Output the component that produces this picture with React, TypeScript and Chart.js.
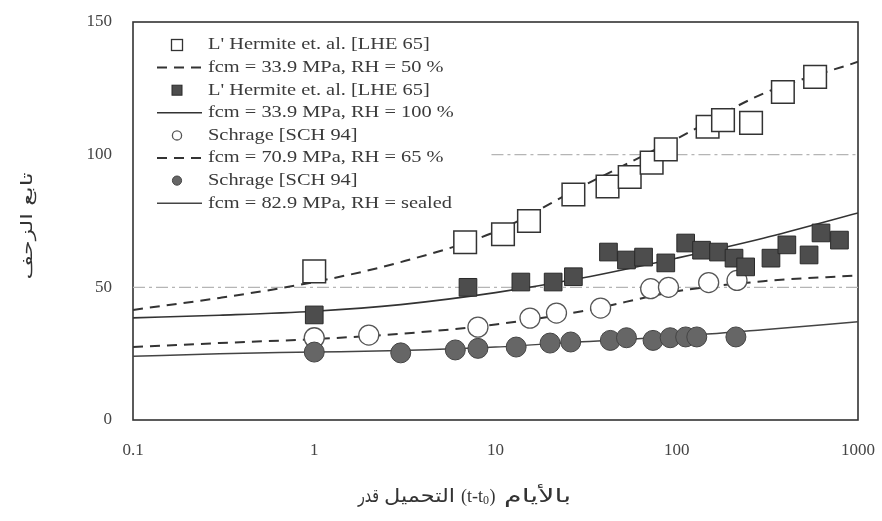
import React, { useEffect, useRef } from "react";
import { Chart, registerables } from "chart.js";

Chart.register(...registerables);

// ---- data ----
const xTickValues = [0.1, 1, 10, 100, 1000];
const yTickValues = [0, 50, 100, 150];

const lhe50Days = [1, 6.8, 11, 15.3, 26.9, 41.5, 55, 72.7, 87, 148, 180, 257, 385, 580];
const lhe50Creep = [56, 67, 70, 75, 85, 88, 91.6, 97, 102, 110.5, 113, 112, 123.6, 129.3];

const lhe100Days = [1, 7.05, 13.8, 20.8, 26.9, 42, 52.8, 65.6, 87, 112, 137, 170, 207, 240, 331, 405, 537, 625, 790];
const lhe100Creep = [39.6, 50, 52, 52, 54, 63.3, 60.3, 61.4, 59.2, 66.7, 64, 63.3, 61, 57.7, 61, 66, 62.2, 70.5, 67.8];

const sch65Days = [1, 2, 8, 15.5, 21.7, 38, 71.8, 90, 150, 215];
const sch65Creep = [31, 32, 35, 38.4, 40.3, 42.2, 49.5, 50, 51.8, 52.6];

const sealedDays = [1, 3, 6, 8, 13, 20, 26, 43, 52.8, 74, 92, 112, 129, 212];
const sealedCreep = [25.6, 25.3, 26.4, 27, 27.5, 29, 29.4, 30, 31, 30, 31, 31.3, 31.3, 31.3];

const curveDays = [0.1, 0.3, 1, 3, 10, 30, 100, 300, 1000];
const fit50Creep = [41.5, 46, 52, 59.5, 71, 88, 106, 123, 135];
const fit100Creep = [38.5, 39.5, 41, 43.5, 48, 53.5, 61, 68.5, 78];
const fit65Creep = [27.5, 29, 30.5, 32.5, 36, 41, 48.5, 52.3, 54.5];
const fitSealedCreep = [24, 25, 25.6, 26.2, 27.5, 29.5, 31.5, 34, 37];

const ref50Days = [0.1, 1000];
const ref50Creep = [50, 50];
const ref100Days = [9.5, 1000];
const ref100Creep = [100, 100];

const legendLabels = [
  "L' Hermite et. al. [LHE 65]",
  "fcm = 33.9 MPa, RH = 50 %",
  "L' Hermite et. al. [LHE 65]",
  "fcm = 33.9 MPa, RH = 100 %",
  "Schrage [SCH 94]",
  "fcm = 70.9 MPa, RH = 65 %",
  "Schrage [SCH 94]",
  "fcm = 82.9 MPa, RH = sealed",
];

// x title words, in the visual left-to-right order of the source figure
const xTitleWords = ["قدر", "التحميل", "(t-t", "0", ")", "بالأيام"];
const yTitle = "تابع الزحف";

const pts = (xs: number[], ys: number[]) => xs.map((x, i) => ({ x, y: ys[i] }));

const decorPlugin = {
  id: "decor",
  beforeDatasetsDraw(chart: any) {
    const { ctx, chartArea: a } = chart;
    ctx.save();
    ctx.strokeStyle = "#333";
    ctx.lineWidth = 1.6;
    ctx.strokeRect(a.left, a.top, a.right - a.left, a.bottom - a.top);
    ctx.restore();
  },
  afterDraw(chart: any) {
    const { ctx, chartArea: a } = chart;
    const datasets = chart.data.datasets;
    // legend
    for (let i = 0; i < 8; i++) {
      const ds = datasets[i];
      const y = a.top + 23 + i * 22.6;
      ctx.save();
      if (ds.showLine) {
        ctx.strokeStyle = ds.borderColor;
        ctx.lineWidth = ds.borderWidth;
        ctx.setLineDash(ds.borderDash || []);
        ctx.beginPath();
        ctx.moveTo(a.left + 24, y);
        ctx.lineTo(a.left + 69, y);
        ctx.stroke();
      } else {
        ctx.fillStyle = ds.backgroundColor;
        ctx.strokeStyle = ds.borderColor;
        ctx.lineWidth = Math.min(ds.borderWidth, 1.3);
        const cx = a.left + 44;
        if (ds.pointStyle === "rect") {
          const s = ds.backgroundColor === "#fff" ? 11 : 10;
          ctx.fillRect(cx - s / 2, y - s / 2, s, s);
          ctx.strokeRect(cx - s / 2, y - s / 2, s, s);
        } else {
          ctx.beginPath();
          ctx.arc(cx, y, 4.6, 0, Math.PI * 2);
          ctx.fill();
          ctx.stroke();
        }
      }
      ctx.restore();
      ctx.save();
      ctx.fillStyle = "#3a3a3a";
      ctx.font = '17px "Liberation Serif"';
      ctx.textBaseline = "middle";
      ctx.textAlign = "left";
      ctx.translate(a.left + 75, y);
      ctx.scale(1.2, 1);
      ctx.fillText(legendLabels[i], 0, 0);
      ctx.restore();
    }
    // x title, each word placed left to right
    ctx.save();
    ctx.fillStyle = "#333";
    ctx.direction = "ltr";
    ctx.textAlign = "left";
    ctx.textBaseline = "middle";
    const ty = 497;
    const arFont = '19px "DejaVu Sans"';
    const drawFit = (txt: string, font: string, x0: number, w: number, dy = 0) => {
      ctx.save();
      ctx.font = font;
      const m = ctx.measureText(txt).width || 1;
      const s = Math.max(0.6, Math.min(1.5, w / m));
      ctx.translate(x0, ty + dy);
      ctx.scale(s, 1);
      ctx.fillText(txt, 0, 0);
      ctx.restore();
    };
    drawFit(xTitleWords[0], arFont, 358, 21);
    drawFit(xTitleWords[1], arFont, 384, 71);
    ctx.font = '18px "Liberation Serif"';
    const w1 = ctx.measureText(xTitleWords[2]).width;
    ctx.fillText("\u200E" + xTitleWords[2], 461, ty);
    ctx.font = '12px "Liberation Serif"';
    const w2 = ctx.measureText(xTitleWords[3]).width;
    ctx.fillText(xTitleWords[3], 461 + w1, ty + 4);
    ctx.font = '18px "Liberation Serif"';
    ctx.fillText(xTitleWords[4], 461 + w1 + w2 + 0.5, ty);
    drawFit(xTitleWords[5], arFont, 504, 85);
    ctx.restore();
    // y title
    ctx.save();
    ctx.fillStyle = "#333";
    ctx.font = '16px "DejaVu Sans"';
    ctx.textAlign = "center";
    ctx.textBaseline = "middle";
    const w = ctx.measureText(yTitle).width;
    const sy = Math.max(0.7, Math.min(1.5, 107 / w));
    ctx.translate(28, 226);
    ctx.rotate(-Math.PI / 2);
    ctx.scale(sy, 1);
    ctx.fillText(yTitle, 0, 0);
    ctx.restore();
  },
};

export default function App() {
  const ref = useRef<HTMLCanvasElement | null>(null);
  useEffect(() => {
    if (!ref.current) return;
    const lineBase = { showLine: true, pointRadius: 0, cubicInterpolationMode: "monotone", fill: false, order: 1 };
    const chart = new Chart(ref.current, {
      type: "scatter",
      data: {
        datasets: [
          { label: legendLabels[0], data: pts(lhe50Days, lhe50Creep), pointStyle: "rect", pointRadius: 16, backgroundColor: "#fff", borderColor: "#333", borderWidth: 1.5, showLine: false, order: 0 },
          { label: legendLabels[1], data: pts(curveDays, fit50Creep), borderColor: "#333", borderWidth: 2, borderDash: [10, 7], ...lineBase },
          { label: legendLabels[2], data: pts(lhe100Days, lhe100Creep), pointStyle: "rect", pointRadius: 12.5, backgroundColor: "#4d4d4d", borderColor: "#2a2a2a", borderWidth: 1, showLine: false, order: 0 },
          { label: legendLabels[3], data: pts(curveDays, fit100Creep), borderColor: "#333", borderWidth: 1.6, ...lineBase },
          { label: legendLabels[4], data: pts(sch65Days, sch65Creep), pointStyle: "circle", pointRadius: 10, backgroundColor: "#fff", borderColor: "#555", borderWidth: 1.3, showLine: false, order: 0 },
          { label: legendLabels[5], data: pts(curveDays, fit65Creep), borderColor: "#333", borderWidth: 2, borderDash: [10, 7], ...lineBase },
          { label: legendLabels[6], data: pts(sealedDays, sealedCreep), pointStyle: "circle", pointRadius: 10, backgroundColor: "#666", borderColor: "#444", borderWidth: 1, showLine: false, order: -1 },
          { label: legendLabels[7], data: pts(curveDays, fitSealedCreep), borderColor: "#444", borderWidth: 1.5, ...lineBase },
          { label: "ref50", data: pts(ref50Days, ref50Creep), showLine: true, pointRadius: 0, borderColor: "#b5b5b5", borderWidth: 1.2, borderDash: [12, 4, 3, 4], order: 2 },
          { label: "ref100", data: pts(ref100Days, ref100Creep), showLine: true, pointRadius: 0, borderColor: "#b5b5b5", borderWidth: 1.2, borderDash: [12, 4, 3, 4], order: 2 },
        ] as any,
      },
      options: {
        animation: false,
        responsive: false,
        devicePixelRatio: 1,
        events: [],
        layout: { padding: { top: 22, right: 24, left: 0, bottom: 0 } },
        plugins: { legend: { display: false }, tooltip: { enabled: false } },
        scales: {
          x: {
            type: "logarithmic",
            min: 0.1,
            max: 1000,
            grid: { display: false, drawTicks: false },
            border: { display: false },
            afterBuildTicks: (s: any) => {
              s.ticks = xTickValues.map((v) => ({ value: v }));
            },
            afterFit: (s: any) => {
              s.height = 101;
              s.paddingLeft = 0;
              s.paddingRight = 0;
            },
            ticks: {
              padding: 20,
              color: "#444",
              autoSkip: false,
              maxRotation: 0,
              font: { family: "Liberation Serif", size: 17 },
              callback: (v: any) => String(v),
            },
          },
          y: {
            type: "linear",
            min: 0,
            max: 150,
            grid: { display: false, drawTicks: false },
            border: { display: false },
            afterBuildTicks: (s: any) => {
              s.ticks = yTickValues.map((v) => ({ value: v }));
            },
            afterFit: (s: any) => {
              s.width = 133;
              s.paddingTop = 0;
              s.paddingBottom = 0;
            },
            ticks: {
              padding: 21,
              color: "#444",
              font: { family: "Liberation Serif", size: 17 },
              callback: (v: any) => String(v),
            },
          },
        },
      } as any,
      plugins: [decorPlugin],
    });
    return () => chart.destroy();
  }, []);
  return (
    <div style={{ position: "fixed", left: 0, top: 0, width: 882, height: 521, background: "#fff" }}>
      <canvas ref={ref} width={882} height={521} style={{ display: "block" }} />
    </div>
  );
}
